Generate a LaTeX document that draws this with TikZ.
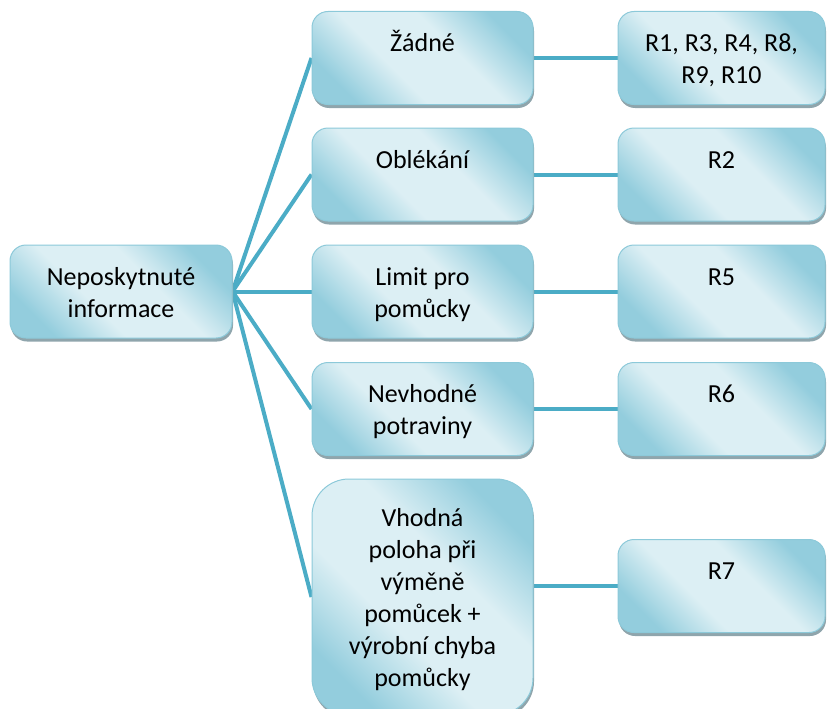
\documentclass[tikz,border=0pt]{standalone}
\usepackage{fontspec}
\setmainfont{Carlito}
\usetikzlibrary{shadows,backgrounds}

\definecolor{linkblue}{HTML}{4BACC6}
\definecolor{celldark}{HTML}{93CDDD}
\definecolor{celllight}{HTML}{DCEFF4}
\definecolor{celledge}{HTML}{8CC9D9}
\definecolor{cellshadow}{HTML}{8FA5AC}

% soft diagonal fill: dark corners, broad light band
\pgfdeclareverticalshading{cellfill}{100bp}{%
  color(0bp)=(celldark); color(25bp)=(celldark);
  color(41bp)=(celllight); color(59bp)=(celllight);
  color(75bp)=(celldark); color(100bp)=(celldark)}

% text block of a cell: fixed width and height, first baseline at #3 from the top
\newcommand{\celltext}[4]{\parbox[c][#2][t]{#1}{\centering\rule{0pt}{#3}#4\par}}

\tikzset{
  cell/.style={
    draw=celledge, line width=1pt, inner sep=0pt, rounded corners=16pt,
    shading=cellfill, shading angle=-45,
    font=\fontsize{26pt}{32pt}\selectfont,
    drop shadow={shadow xshift=1pt, shadow yshift=-3.5pt, fill=cellshadow, opacity=1}
  },
  link/.style={draw=linkblue, line width=4pt}
}

\begin{document}
\begin{tikzpicture}[x=1pt, y=-1pt]
  \useasboundingbox (0,0) rectangle (827,709);

  % root
  \node[cell] (root) at (121,291.5) {\celltext{222pt}{93pt}{40pt}{Neposkytnuté\\informace}};

  % middle column
  \node[cell] (m1) at (422.5,58)    {\celltext{221pt}{93pt}{40pt}{Žádné}};
  \node[cell] (m2) at (422.5,174.5) {\celltext{221pt}{93pt}{40pt}{Oblékání}};
  \node[cell] (m3) at (422.5,291.5) {\celltext{221pt}{93pt}{40pt}{Limit pro\\pomůcky}};
  \node[cell] (m4) at (422.5,409)   {\celltext{221pt}{93pt}{40pt}{Nevhodné\\potraviny}};
  \node[cell, rounded corners=37pt] (m5) at (422.5,597)
    {\celltext{221pt}{236pt}{47pt}{Vhodná\\poloha při\\výměně\\pomůcek +\\výrobní chyba\\pomůcky}};

  % right column
  \node[cell] (r1) at (721.5,58)    {\celltext{207pt}{93pt}{40pt}{R1, R3, R4, R8,\\R9, R10}};
  \node[cell] (r2) at (721.5,174.5) {\celltext{207pt}{93pt}{40pt}{R2}};
  \node[cell] (r3) at (721.5,291.5) {\celltext{207pt}{93pt}{40pt}{R5}};
  \node[cell] (r4) at (721.5,409)   {\celltext{207pt}{93pt}{40pt}{R6}};
  \node[cell] (r5) at (721.5,586)   {\celltext{207pt}{93pt}{40pt}{R7}};

  % connectors
  \begin{scope}[on background layer]
    \foreach \m in {m1,m2,m3,m4,m5}
      \draw[link] (root.east) -- (\m.west);
    \draw[link] (m1.east) -- (r1.west);
    \draw[link] (m2.east) -- (r2.west);
    \draw[link] (m3.east) -- (r3.west);
    \draw[link] (m4.east) -- (r4.west);
    \draw[link] (r5.west -| m5.east) -- (r5.west);
  \end{scope}
\end{tikzpicture}
\end{document}
